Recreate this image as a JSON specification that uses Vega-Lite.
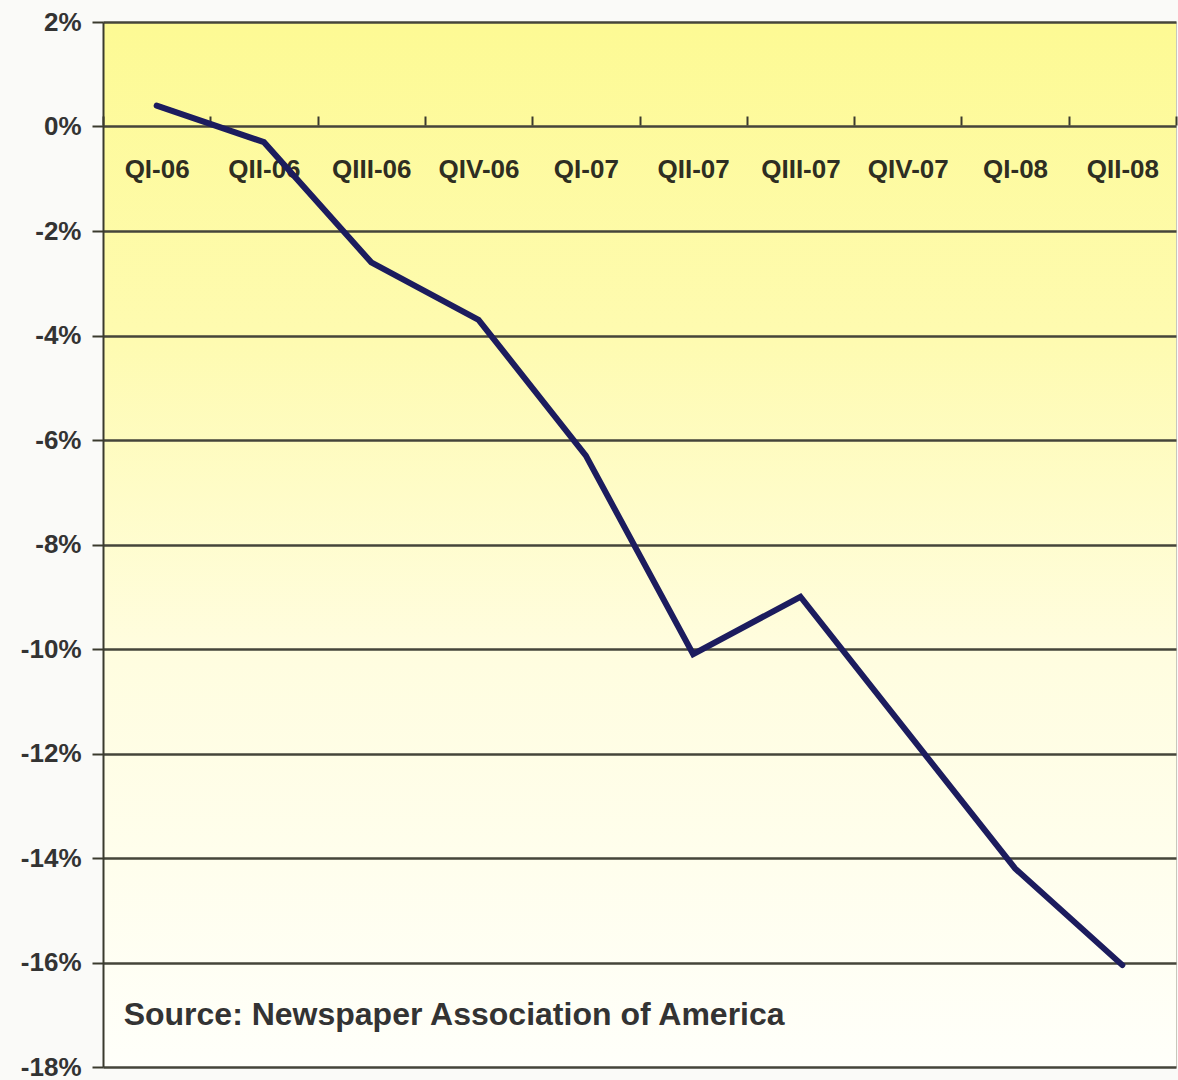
{
  "$schema": "https://vega.github.io/schema/vega-lite/v6.json",
  "width": 1178,
  "height": 1080,
  "autosize": {"type": "fit", "contains": "padding"},
  "padding": {"left": 20, "top": 9, "right": 1, "bottom": 0},
  "background": "#fafaf8",
  "config": {
    "view": {"stroke": "#c8c8bc", "strokeWidth": 1},
    "font": "Liberation Sans"
  },
  "view": {
    "stroke": "#c8c8bc",
    "fill": {
      "gradient": "linear",
      "x1": 0, "y1": 0, "x2": 0, "y2": 1,
      "stops": [
        {"offset": 0, "color": "#fdfa94"},
        {"offset": 0.3, "color": "#fefbb0"},
        {"offset": 0.6, "color": "#fffddf"},
        {"offset": 1, "color": "#fffffa"}
      ]
    }
  },
  "data": {
    "values": [
      {"quarter": "QI-06", "change": 0.4},
      {"quarter": "QII-06", "change": -0.3},
      {"quarter": "QIII-06", "change": -2.6},
      {"quarter": "QIV-06", "change": -3.7},
      {"quarter": "QI-07", "change": -6.3},
      {"quarter": "QII-07", "change": -10.1},
      {"quarter": "QIII-07", "change": -9.0},
      {"quarter": "QIV-07", "change": -11.6},
      {"quarter": "QI-08", "change": -14.2},
      {"quarter": "QII-08", "change": -16.05}
    ]
  },
  "layer": [
    {
      "mark": {"type": "line", "color": "#1c1c5e", "strokeWidth": 6, "strokeJoin": "miter", "strokeCap": "round"},
      "encoding": {
        "x": {
          "field": "quarter",
          "type": "nominal",
          "sort": null,
          "bandPosition": 0.5,
          "scale": {"type": "band", "paddingInner": 0, "paddingOuter": 0},
          "axis": {
            "orient": "bottom",
            "offset": -942,
            "title": null,
            "domain": false,
            "ticks": true,
            "tickBand": "extent",
            "tickSize": -9,
            "tickWidth": 2,
            "tickColor": "#3a3a2e",
            "labelAngle": 0,
            "labelPadding": 40,
            "labelFont": "Liberation Sans",
            "labelFontWeight": "bold",
            "labelFontSize": 26,
            "labelColor": "#2e2e22"
          }
        },
        "y": {
          "field": "change",
          "type": "quantitative",
          "scale": {"domain": [-18, 2], "nice": false, "zero": false},
          "axis": {
            "title": null,
            "values": [2, 0, -2, -4, -6, -8, -10, -12, -14, -16, -18],
            "labelExpr": "datum.value + '%'",
            "grid": true,
            "gridColor": "#45453a",
            "gridWidth": 2.5,
            "domain": true,
            "domainColor": "#3a3a2e",
            "domainWidth": 2,
            "ticks": true,
            "tickSize": 11,
            "tickWidth": 2,
            "tickColor": "#3a3a2e",
            "labelPadding": 11,
            "labelFont": "Liberation Sans",
            "labelFontWeight": "bold",
            "labelFontSize": 26,
            "labelColor": "#333333"
          }
        }
      }
    },
    {
      "data": {"values": [{"note": "Source: Newspaper Association of America"}]},
      "mark": {
        "type": "text",
        "align": "left",
        "baseline": "middle",
        "dx": -33,
        "font": "Liberation Sans",
        "fontWeight": "bold",
        "fontSize": 32,
        "color": "#333333"
      },
      "encoding": {
        "x": {"datum": "QI-06", "type": "nominal"},
        "y": {"datum": -17, "type": "quantitative"},
        "text": {"field": "note"}
      }
    }
  ]
}
